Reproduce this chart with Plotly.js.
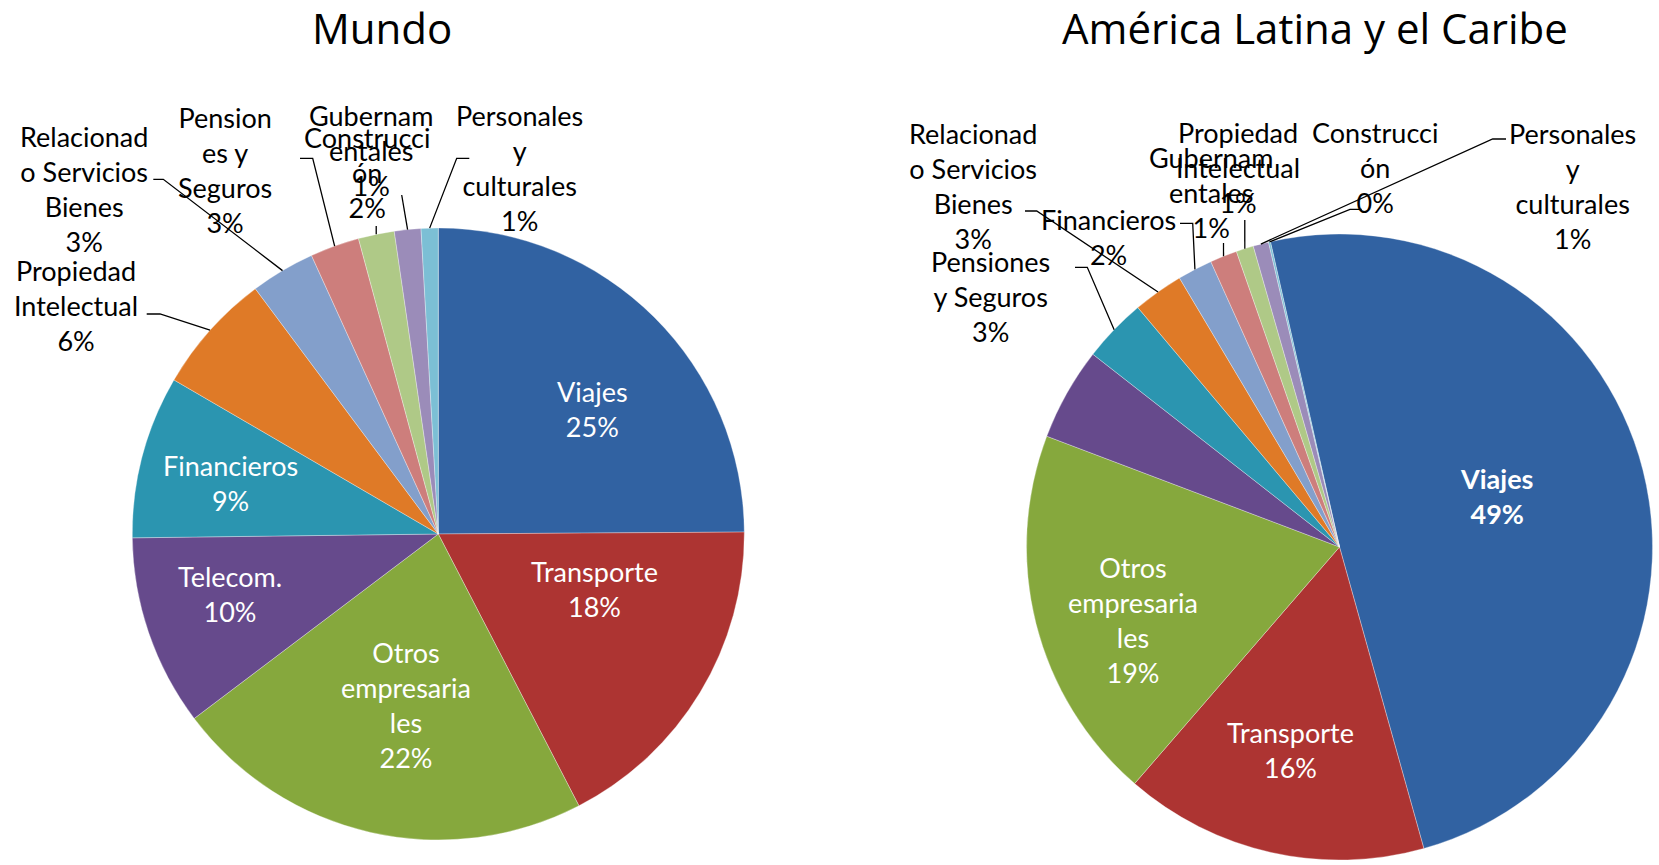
<!DOCTYPE html>
<html><head><meta charset="utf-8">
<script src="https://cdn.plot.ly/plotly-3.0.1.min.js"></script>
<style>html,body{margin:0;padding:0;background:#fff;} #chart{width:1659px;height:865px;}</style>
</head><body><div id="chart"></div>
<script>
// ---------------- DATA ----------------
const categoriesMundo = ['Viajes','Transporte','Otros empresariales','Telecom.','Financieros','Propiedad Intelectual','Relacionado Servicios Bienes','Pensiones y Seguros','Construcción','Gubernamentales','Personales y culturales'];
const valuesMundo = [24.9, 17.5, 22.3, 10.1, 8.6, 6.4, 3.4, 2.6, 1.9, 1.4, 0.9];
const labelTextMundo = ['Viajes','Transporte','Otros<br>empresaria<br>les','Telecom.','Financieros','Propiedad<br>Intelectual','Relacionad<br>o Servicios<br>Bienes','Pension<br>es y<br>Seguros','Construcci<br>ón','Gubernam<br>entales','Personales<br>y<br>culturales'];

const categoriesALC = ['Viajes','Transporte','Otros empresariales','Telecom.','Pensiones y Seguros','Relacionado Servicios Bienes','Financieros','Gubernamentales','Propiedad Intelectual','Personales y culturales','Construcción'];
const valuesALC = [49.2, 15.7, 19.4, 4.8, 3.3, 2.6, 1.8, 1.4, 0.9, 0.8, 0.1];
const labelTextALC = ['<b>Viajes</b>','Transporte','Otros<br>empresaria<br>les',null,'Pensiones<br>y Seguros','Relacionad<br>o Servicios<br>Bienes','Financieros','Gubernam<br>entales','Propiedad<br>Intelectual','Personales<br>y<br>culturales','Construcci<br>ón'];

const titles = ['Mundo', 'América Latina y el Caribe'];

// ---------------- STYLE / LAYOUT ----------------
const W = 1659, H = 865;
const sliceColors = ['#3162a2','#ad3432','#86a83d','#664a8c','#2b95b0','#df7a27','#839fcb','#cd7e7c','#afc987','#9b8cb9','#7cbfd5'];
const FONT = 'Lato, "Open Sans", sans-serif';
const TITLE_FONT = '"Open Sans", Lato, sans-serif';
const LBL = 27;

// pie geometry (px)
const pies = [
  {cx: 438.3, cy: 534.0, r: 306, rot: 0},
  {cx: 1339.5, cy: 547.0, r: 313, rot: -12.75}
];

// label placement (block centre px), inside => white text, stub => leader line points (px) before the tip
const placeMundo = [
  {x: 592.5, y: 409, inside: true},
  {x: 594.6, y: 589, inside: true},
  {x: 406.3, y: 705, inside: true},
  {x: 229.6, y: 594, inside: true},
  {x: 230.6, y: 483, inside: true},
  {x: 75.8, y: 306, stub: [[146.7,314],[160,314]]},
  {x: 84.2, y: 188.5, stub: [[153.3,179.3],[163.3,179.3]]},
  {x: 225, y: 170, stub: [[300,158.3],[312.7,158.3]]},
  {x: 366.7, y: 172.5, stub: [[376.2,226]]},
  {x: 370.8, y: 150, stub: [[401.7,195]]},
  {x: 519.5, y: 168, stub: [[469.3,158.3],[456.7,158.3]]}
];
const placeALC = [
  {x: 1496, y: 496, inside: true, bold: true},
  {x: 1290.8, y: 749.6, inside: true},
  {x: 1133.1, y: 620, inside: true},
  null,
  {x: 990.3, y: 296.2, stub: [[1075,267.3],[1087.3,267.3]]},
  {x: 973.4, y: 186.2, stub: [[1025,211],[1036.7,211]]},
  {x: 1108.8, y: 236.5, stub: [[1180,223.3],[1192.7,223.3]]},
  {x: 1211.4, y: 192.5, stub: [[1223.5,243]]},
  {x: 1237.9, y: 167.7, stub: [[1244.8,220]]},
  {x: 1572.2, y: 186.2, stub: [[1506,139],[1492.7,139]]},
  {x: 1375.4, y: 167.7, stub: [[1361.7,209.3],[1350,209.3]]}
];

const px = x => x / W;
const py = y => 1 - y / H;

function domainOf(p) {
  return {x: [px(p.cx - p.r), px(p.cx + p.r)], y: [py(p.cy + p.r), py(p.cy - p.r)]};
}

function pieTrace(labels, values, p) {
  return {
    type: 'pie', labels: labels, values: values, sort: false, direction: 'clockwise',
    rotation: p.rot, textinfo: 'none', hoverinfo: 'label+percent', showlegend: false,
    marker: {colors: sliceColors, line: {color: 'rgba(255,255,255,0.45)', width: 0.7}},
    domain: domainOf(p)
  };
}

const annotations = [];
const shapes = [];

function addLabels(values, texts, places, p) {
  const total = values.reduce((a, b) => a + b, 0);
  let cum = 0;
  values.forEach((v, i) => {
    const midDeg = p.rot + (cum + v / 2) / total * 360;
    cum += v;
    const pl = places[i];
    if (!pl || !texts[i]) return;
    const pct = Math.round(v / total * 100) + '%';
    const txt = texts[i] + '<br>' + (pl.bold ? '<b>' + pct + '</b>' : pct);
    annotations.push({
      xref: 'paper', yref: 'paper', x: px(pl.x), y: py(pl.y), xanchor: 'center', yanchor: 'middle',
      text: txt, showarrow: false, align: 'center',
      font: {family: FONT, size: LBL, color: pl.inside ? '#ffffff' : '#000000'}
    });
    if (pl.stub) {
      const a = midDeg * Math.PI / 180;
      const tip = [p.cx + p.r * Math.sin(a), p.cy - p.r * Math.cos(a)];
      const pts = pl.stub.concat([tip]);
      const path = pts.map((q, k) => (k ? 'L' : 'M') + px(q[0]).toFixed(5) + ',' + py(q[1]).toFixed(5)).join(' ');
      shapes.push({type: 'path', xref: 'paper', yref: 'paper', path: path, line: {color: '#000000', width: 1.3}});
    }
  });
}

addLabels(valuesMundo, labelTextMundo, placeMundo, pies[0]);
addLabels(valuesALC, labelTextALC, placeALC, pies[1]);

// titles
[[381.7, 27], [1315, 27]].forEach((pos, i) => {
  annotations.push({
    xref: 'paper', yref: 'paper', x: px(pos[0]), y: py(pos[1]), xanchor: 'center', yanchor: 'middle',
    text: titles[i], showarrow: false, font: {family: TITLE_FONT, size: 42, color: '#000000'}
  });
});

const layout = {
  width: W, height: H, margin: {l: 0, r: 0, t: 0, b: 0},
  paper_bgcolor: '#ffffff', plot_bgcolor: '#ffffff',
  showlegend: false, annotations: annotations, shapes: shapes,
  font: {family: FONT}
};

Plotly.newPlot('chart', [pieTrace(categoriesMundo, valuesMundo, pies[0]), pieTrace(categoriesALC, valuesALC, pies[1])], layout, {displayModeBar: false, staticPlot: true});
</script>
</body></html>
